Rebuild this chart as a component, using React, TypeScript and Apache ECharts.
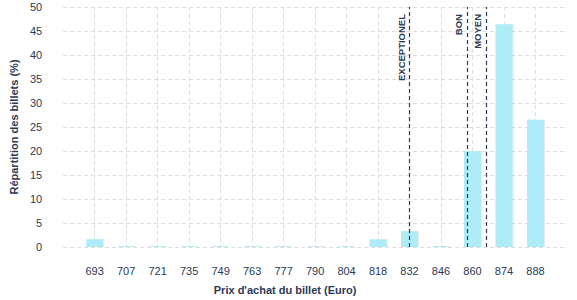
import React, { useEffect, useRef } from "react";
import * as echarts from "echarts";

const categories = ["693", "707", "721", "735", "749", "763", "777", "790", "804", "818", "832", "846", "860", "874", "888"];
const shares = [1.6, 0.15, 0.15, 0.15, 0.15, 0.15, 0.15, 0.15, 0.15, 1.6, 3.3, 0.2, 20.0, 46.4, 26.5];
const thresholdNames = ["EXCEPTIONEL", "BON", "MOYEN"];
const thresholdPositions = [10, 11.82, 12.42];
const yTicks = { min: 0, max: 50, step: 5 };

const NAVY = "#2b3a55";
const FONT = "'Liberation Sans', Arial, sans-serif";

export default function App() {
  const ref = useRef<HTMLDivElement>(null);
  useEffect(() => {
    if (!ref.current) return;
    const chart = echarts.init(ref.current, undefined, { renderer: "svg" });
    chart.setOption({
      animation: false,
      textStyle: { fontFamily: FONT },
      grid: { left: 61, right: 10, top: 7, bottom: 50 },
      xAxis: {
        type: "value",
        min: -1,
        max: categories.length,
        interval: 1,
        name: "Prix d'achat du billet (Euro)",
        nameLocation: "middle",
        nameGap: 37,
        nameTextStyle: { color: NAVY, fontWeight: "bold", fontSize: 11, fontFamily: FONT, padding: [0, 60, 0, 0] },
        axisLine: { show: false },
        axisTick: { show: false },
        axisLabel: {
          color: NAVY,
          fontSize: 11,
          margin: 18,
          fontFamily: FONT,
          formatter: (v: number) => categories[v] ?? "",
        },
        splitLine: {
          show: true,
          showMinLine: false,
          showMaxLine: false,
          lineStyle: { color: "#dddddd", type: [4, 3] },
        },
      },
      yAxis: {
        type: "value",
        min: yTicks.min,
        max: yTicks.max,
        interval: yTicks.step,
        name: "Répartition des billets (%)",
        nameLocation: "middle",
        nameGap: 44,
        nameTextStyle: { color: NAVY, fontWeight: "bold", fontSize: 11, fontFamily: FONT },
        axisLine: { show: false },
        axisTick: { show: false },
        axisLabel: { color: NAVY, fontSize: 11, margin: 21, fontFamily: FONT },
        splitLine: { show: true, lineStyle: { color: "#dddddd", type: [4, 3] } },
      },
      series: [
        {
          type: "bar",
          barWidth: 17,
          data: shares.map((v, i) => [i, v]),
          itemStyle: {
            color: "#aeedf8",
            shadowColor: "rgba(0,0,0,0.12)",
            shadowOffsetX: 1,
            shadowOffsetY: 0,
            shadowBlur: 0,
          },
          markLine: {
            symbol: "none",
            silent: true,
            lineStyle: { color: NAVY, type: [4, 3], width: 1.2 },
            label: {
              show: true,
              position: "insideEndTop",
              formatter: "{b}",
              color: NAVY,
              fontSize: 9.5,
              fontWeight: "bold",
              fontFamily: FONT,
              distance: 3,
              padding: [0, 4, 0, 0],
            },
            data: thresholdPositions.map((x, i) => ({ xAxis: x, name: thresholdNames[i] })),
          },
        },
      ],
    });
    return () => chart.dispose();
  }, []);
  return <div ref={ref} style={{ position: "absolute", left: 0, top: 0, width: 577, height: 300 }} />;
}
